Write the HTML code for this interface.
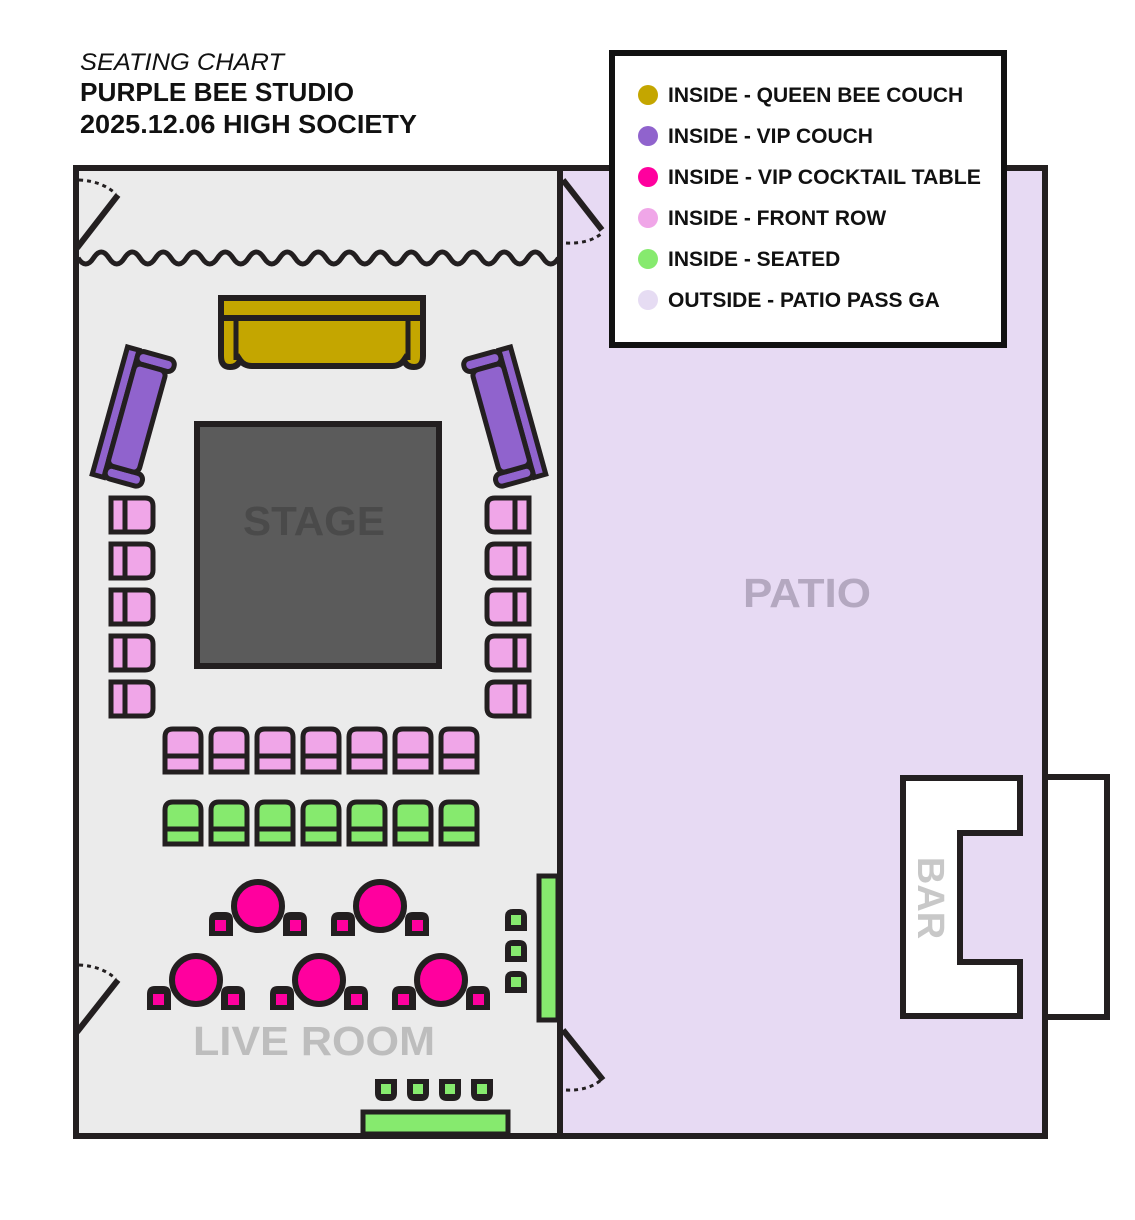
<!DOCTYPE html>
<html><head><meta charset="utf-8"><style>
html,body{margin:0;padding:0;background:#fff;}
svg{display:block;}
text{font-family:"Liberation Sans",sans-serif;}
</style></head><body>
<svg width="1135" height="1220" viewBox="0 0 1135 1220" xmlns="http://www.w3.org/2000/svg">
<defs>
<g id="lchair"><path d="M111,498 H145 Q153,498 153,506 V524 Q153,532 145,532 H111 Z" fill="#f0a6e8" stroke="#231f20" stroke-width="5"/><line x1="125" y1="498" x2="125" y2="532" stroke="#231f20" stroke-width="5"/></g>
<g id="rchair"><path d="M529,498 H495 Q487,498 487,506 V524 Q487,532 495,532 H529 Z" fill="#f0a6e8" stroke="#231f20" stroke-width="5"/><line x1="515" y1="498" x2="515" y2="532" stroke="#231f20" stroke-width="5"/></g>
<g id="fchair"><path d="M165,772 V737 Q165,729 173,729 H193 Q201,729 201,737 V772 Z" fill="#f0a6e8" stroke="#231f20" stroke-width="5"/><line x1="165" y1="756" x2="201" y2="756" stroke="#231f20" stroke-width="5"/></g>
<g id="gchair"><path d="M165,844 V810 Q165,802 173,802 H193 Q201,802 201,810 V844 Z" fill="#86ea6e" stroke="#231f20" stroke-width="5"/><line x1="165" y1="829" x2="201" y2="829" stroke="#231f20" stroke-width="5"/></g>
<g id="seatL"><path d="M-49,30 V14 Q-49,6 -41,6 H-33 Q-25,6 -25,14 V30 Z" fill="#231f20"/><rect x="-43" y="14" width="11" height="11" fill="#ff009e"/></g>
<g id="table"><use href="#seatL"/><use href="#seatL" transform="scale(-1,1)"/><circle cx="0" cy="0" r="24" fill="#ff009e" stroke="#231f20" stroke-width="6"/></g>
<g id="couch">
<rect x="-24" y="-66" width="12" height="132" fill="#9063cd" stroke="#231f20" stroke-width="5"/>
<rect x="-12" y="-66" width="38" height="13" rx="6" fill="#9063cd" stroke="#231f20" stroke-width="5"/>
<rect x="-12" y="53" width="38" height="13" rx="6" fill="#9063cd" stroke="#231f20" stroke-width="5"/>
<rect x="-12" y="-53" width="32" height="106" rx="6" fill="#9063cd" stroke="#231f20" stroke-width="5"/>
</g>
<g id="gsmall"><path d="M0,0 H22 V14 Q22,22 14,22 H8 Q0,22 0,14 Z" fill="#231f20"/><rect x="6" y="5" width="10" height="10" fill="#86ea6e"/></g>
<g id="gside"><path d="M0,0 H22 V-14 Q22,-22 14,-22 H8 Q0,-22 0,-14 Z" fill="#231f20"/><rect x="6" y="-16" width="10" height="10" fill="#86ea6e"/></g>
<path id="wave" d="M0,0 q7.75,-12 15.5,0 q7.75,12 15.5,0"/>
</defs>

<!-- title -->
<text x="80" y="70" font-size="24" font-style="italic" fill="#111" textLength="204" lengthAdjust="spacingAndGlyphs">SEATING CHART</text>
<text x="80" y="101" font-size="26" font-weight="bold" fill="#111" textLength="274" lengthAdjust="spacingAndGlyphs">PURPLE BEE STUDIO</text>
<text x="80" y="133" font-size="26" font-weight="bold" fill="#111" textLength="337" lengthAdjust="spacingAndGlyphs">2025.12.06 HIGH SOCIETY</text>

<!-- patio -->
<rect x="560" y="168" width="485" height="968" fill="#e7daf3" stroke="#231f20" stroke-width="6"/>
<!-- live room -->
<rect x="76" y="168" width="484" height="968" fill="#ebebeb" stroke="#231f20" stroke-width="6"/>

<!-- doors -->
<g stroke="#231f20" fill="none">
<path d="M79,180 Q102,181 116,194" stroke-width="3" stroke-dasharray="4,4"/>
<line x1="77" y1="248" x2="118" y2="195" stroke-width="6"/>
<path d="M563,180 L602,230" stroke-width="6"/>
<path d="M566,243 Q588,244 601,234" stroke-width="3" stroke-dasharray="4,4"/>
<path d="M79,965 Q102,966 116,979" stroke-width="3" stroke-dasharray="4,4"/>
<line x1="77" y1="1032" x2="118" y2="980" stroke-width="6"/>
<path d="M563,1030 L603,1080" stroke-width="6"/>
<path d="M566,1090 Q588,1091 601,1080" stroke-width="3" stroke-dasharray="4,4"/>
</g>

<!-- curtain -->
<g fill="none" stroke="#231f20" stroke-width="5">
<path d="M78,258 q7.75,12 15.5,0 q7.75,-12 15.5,0 q7.75,12 15.5,0 q7.75,-12 15.5,0 q7.75,12 15.5,0 q7.75,-12 15.5,0 q7.75,12 15.5,0 q7.75,-12 15.5,0 q7.75,12 15.5,0 q7.75,-12 15.5,0 q7.75,12 15.5,0 q7.75,-12 15.5,0 q7.75,12 15.5,0 q7.75,-12 15.5,0 q7.75,12 15.5,0 q7.75,-12 15.5,0 q7.75,12 15.5,0 q7.75,-12 15.5,0 q7.75,12 15.5,0 q7.75,-12 15.5,0 q7.75,12 15.5,0 q7.75,-12 15.5,0 q7.75,12 15.5,0 q7.75,-12 15.5,0 q7.75,12 15.5,0 q7.75,-12 15.5,0 q7.75,12 15.5,0 q7.75,-12 15.5,0 q7.75,12 15.5,0 q7.75,-12 15.5,0 q7.75,12 15.5,0"/>
</g>

<!-- queen couch -->
<path d="M221,298 H423 V356 Q423,367 414,367 Q406,367 404,360 Q400,366 392,366 H252 Q244,366 240,360 Q238,367 230,367 Q221,367 221,356 Z" fill="#c4a600" stroke="#231f20" stroke-width="6"/>
<line x1="221" y1="318" x2="423" y2="318" stroke="#231f20" stroke-width="6"/>
<line x1="236" y1="318" x2="236" y2="360" stroke="#231f20" stroke-width="5"/>
<line x1="408" y1="318" x2="408" y2="360" stroke="#231f20" stroke-width="5"/>

<!-- vip couches -->
<use href="#couch" transform="translate(133,417) rotate(15.5)"/>
<use href="#couch" transform="translate(505,417) scale(-1,1) rotate(15.5)"/>

<!-- stage -->
<rect x="197" y="424" width="242" height="242" fill="#5b5b5b" stroke="#231f20" stroke-width="6"/>
<text x="243" y="535" font-size="41" font-weight="bold" fill="#4a4a4a" textLength="142" lengthAdjust="spacingAndGlyphs">STAGE</text>

<!-- side chairs -->
<use href="#lchair"/><use href="#lchair" y="46"/><use href="#lchair" y="92"/><use href="#lchair" y="138"/><use href="#lchair" y="184"/>
<use href="#rchair"/><use href="#rchair" y="46"/><use href="#rchair" y="92"/><use href="#rchair" y="138"/><use href="#rchair" y="184"/>

<!-- front rows -->
<use href="#fchair"/><use href="#fchair" x="46"/><use href="#fchair" x="92"/><use href="#fchair" x="138"/><use href="#fchair" x="184"/><use href="#fchair" x="230"/><use href="#fchair" x="276"/>
<use href="#gchair"/><use href="#gchair" x="46"/><use href="#gchair" x="92"/><use href="#gchair" x="138"/><use href="#gchair" x="184"/><use href="#gchair" x="230"/><use href="#gchair" x="276"/>

<!-- tables -->
<use href="#table" transform="translate(258,906)"/>
<use href="#table" transform="translate(380,906)"/>
<use href="#table" transform="translate(196,980)"/>
<use href="#table" transform="translate(319,980)"/>
<use href="#table" transform="translate(441,980)"/>

<!-- green side bar -->
<rect x="539" y="876" width="19" height="144" fill="#86ea6e" stroke="#231f20" stroke-width="5"/>
<use href="#gside" transform="translate(505,931)"/>
<use href="#gside" transform="translate(505,962)"/>
<use href="#gside" transform="translate(505,993)"/>

<!-- bottom seats & bench -->
<use href="#gsmall" transform="translate(375,1079)"/>
<use href="#gsmall" transform="translate(407,1079)"/>
<use href="#gsmall" transform="translate(439,1079)"/>
<use href="#gsmall" transform="translate(471,1079)"/>
<rect x="363" y="1112" width="145" height="22" fill="#86ea6e" stroke="#231f20" stroke-width="5"/>

<text x="193" y="1055" font-size="41" font-weight="bold" fill="#bdbdbd" textLength="242" lengthAdjust="spacingAndGlyphs">LIVE ROOM</text>
<text x="743" y="607" font-size="41" font-weight="bold" fill="#b4a8c0" textLength="128" lengthAdjust="spacingAndGlyphs">PATIO</text>

<!-- bar -->
<rect x="1045" y="777" width="62" height="240" fill="#fff" stroke="#231f20" stroke-width="6"/>
<path d="M903,778 H1020 V833 H960 V962 H1020 V1016 H903 Z" fill="#fff" stroke="#231f20" stroke-width="6"/>
<text x="0" y="0" font-size="38" font-weight="bold" fill="#c8c8c8" text-anchor="middle" transform="translate(918,898) rotate(90)">BAR</text>

<!-- legend -->
<rect x="612" y="53" width="392" height="292" fill="#fff" stroke="#111" stroke-width="6"/>
<g font-size="21" font-weight="bold" fill="#111">
<circle cx="648" cy="95" r="10" fill="#c4a600"/><text x="668" y="102">INSIDE - QUEEN BEE COUCH</text>
<circle cx="648" cy="136" r="10" fill="#9063cd"/><text x="668" y="143">INSIDE - VIP COUCH</text>
<circle cx="648" cy="177" r="10" fill="#ff009e"/><text x="668" y="184" textLength="313" lengthAdjust="spacingAndGlyphs">INSIDE - VIP COCKTAIL TABLE</text>
<circle cx="648" cy="218" r="10" fill="#f0a6e8"/><text x="668" y="225">INSIDE - FRONT ROW</text>
<circle cx="648" cy="259" r="10" fill="#86ea6e"/><text x="668" y="266">INSIDE - SEATED</text>
<circle cx="648" cy="300" r="10" fill="#e6dcf3"/><text x="668" y="307">OUTSIDE - PATIO PASS GA</text>
</g>
</svg>
</body></html>
